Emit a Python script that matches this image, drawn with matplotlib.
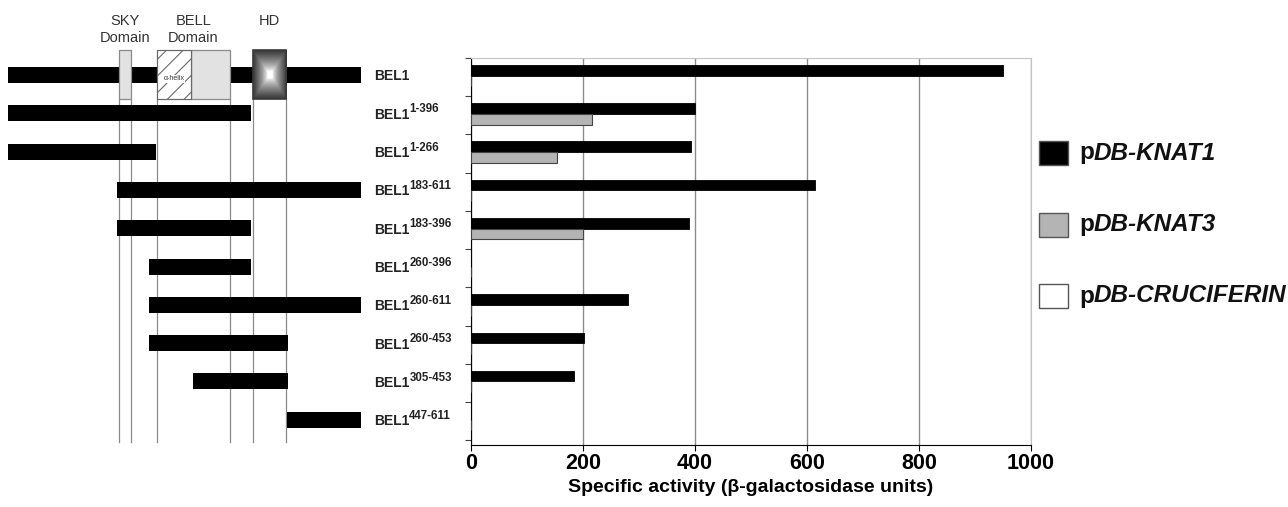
import numpy as np
import matplotlib.pyplot as plt
from matplotlib.patches import Rectangle

plt.rcParams['font.family'] = ['Liberation Sans', 'DejaVu Sans']

# constructs (residue ranges of BEL1)
construct_start = [1, 1, 1, 183, 183, 260, 260, 260, 305, 447]
construct_end = [611, 396, 266, 611, 396, 396, 611, 453, 453, 611]

# specific activity (beta-galactosidase units)
knat1 = [950, 400, 392, 615, 390, 0, 281, 201, 184, 0]
knat3 = [0, 216, 154, 0, 200, 0, 0, 0, 0, 0]
cruciferin = [0, 0, 0, 0, 0, 0, 0, 0, 0, 0]

series_names = ["KNAT1", "KNAT3", "CRUCIFERIN"]
series_colors = ["black", "#b4b4b4", "white"]

# domains (residues)
sky_dom = (187, 216)
bell_dom = (267, 363)
helix_end = 303
hd_dom = (399, 446)

# schematic is not to scale: residue -> drawing position
res_break = [1, 183, 260, 266, 305, 396, 447, 453, 611]
pos_break = [8, 117, 149, 156, 193, 251, 287, 288, 361]


def to_x(r):
    return np.interp(r, res_break, pos_break)


n = len(construct_start)
row0, step = 75, 38.3
rows_px = row0 + step * np.arange(n)

fig = plt.figure(figsize=(12.88, 5.07), dpi=100)

# overlay axes in pixel units for the schematic, labels, legend
ax0 = fig.add_axes([0, 0, 1, 1])
ax0.axis("off")

bar_h = 16
box_top, box_bot = 50, 99
guide_bottom = 442

# guide lines
for r in [sky_dom[0], sky_dom[1], bell_dom[0], bell_dom[1], hd_dom[0], hd_dom[1]]:
    ax0.plot([to_x(r), to_x(r)], [box_bot, guide_bottom], color="#8a8a8a",
             lw=0.9, zorder=1)

# construct bars
for i in range(n):
    x0 = to_x(construct_start[i])
    x1 = to_x(construct_end[i])
    ax0.add_patch(Rectangle((x0, rows_px[i] - bar_h / 2), x1 - x0, bar_h,
                            facecolor="black", edgecolor="none", zorder=2))

# domain boxes
sx0, sx1 = to_x(sky_dom[0]), to_x(sky_dom[1])
ax0.add_patch(Rectangle((sx0, box_top), sx1 - sx0, box_bot - box_top,
                        facecolor="#e2e2e2", edgecolor="#8a8a8a", lw=0.9, zorder=3))
bx0, bx1, hx = to_x(bell_dom[0]), to_x(bell_dom[1]), to_x(helix_end)
ax0.add_patch(Rectangle((hx, box_top), bx1 - hx, box_bot - box_top,
                        facecolor="#e2e2e2", edgecolor="#8a8a8a", lw=0.9, zorder=3))
plt.rcParams['hatch.linewidth'] = 0.8
ax0.add_patch(Rectangle((bx0, box_top), hx - bx0, box_bot - box_top,
                        facecolor="white", edgecolor="#6a6a6a", hatch="//",
                        lw=0.9, zorder=3))
ax0.text((bx0 + hx) / 2, 79, "α-helix", fontsize=5, ha="center", va="center",
         color="#333333", zorder=4,
         bbox=dict(facecolor="white", edgecolor="none", pad=0.3))

# homeodomain with gradient
hd0, hd1 = to_x(hd_dom[0]), to_x(hd_dom[1])
gx = np.linspace(-1, 1, 60)
gy = np.linspace(-1, 1, 80)
GX, GY = np.meshgrid(gx, gy)
d = np.maximum(np.abs(GX), np.abs(GY))
shade = 1 - 0.78 * np.clip((d - 0.15) / 0.85, 0, 1) ** 0.7
ax0.imshow(shade, cmap="gray", vmin=0, vmax=1, extent=(hd0, hd1, box_bot, box_top),
           aspect="auto", zorder=3, interpolation="bilinear")
ax0.add_patch(Rectangle((hd0, box_top), hd1 - hd0, box_bot - box_top,
                        facecolor="none", edgecolor="#3a3a3a", lw=1.2, zorder=4))

# domain labels
ax0.text((sx0 + sx1) / 2, 21, "SKY", fontsize=10.5, ha="center", va="center",
         color="#333333")
ax0.text((sx0 + sx1) / 2, 38, "Domain", fontsize=10.5, ha="center", va="center",
         color="#333333")
ax0.text((bx0 + bx1) / 2, 21, "BELL", fontsize=10.5, ha="center", va="center",
         color="#333333")
ax0.text((bx0 + bx1) / 2, 38, "Domain", fontsize=10.5, ha="center", va="center",
         color="#333333")
ax0.text((hd0 + hd1) / 2, 21, "HD", fontsize=10.5, ha="center", va="center",
         color="#333333")

# construct labels
for i in range(n):
    t = ax0.text(374, rows_px[i] + 1.5, "BEL1", fontsize=10, fontweight="bold",
                 ha="left", va="center", color="#222222")
    if i > 0:
        ax0.annotate(f"{construct_start[i]}-{construct_end[i]}", xy=(1.0, 0.45),
                     xycoords=t, fontsize=8.3, fontweight="bold", ha="left",
                     va="bottom", color="#222222")

# legend (drawn by hand for mixed upright / italic text)
leg_y0, leg_step = 153, 71.5
for k, name in enumerate(series_names):
    yc = leg_y0 + leg_step * k
    ax0.add_patch(Rectangle((1039, yc - 12), 29, 24, facecolor=series_colors[k],
                            edgecolor="#555555", lw=1.0))
    tp = ax0.text(1079, yc, "p", fontsize=17.5, fontweight="bold", ha="left",
                  va="center", color="#111111")
    ax0.annotate(f"DB-{name}", xy=(1.0, 0.5), xycoords=tp, fontsize=17.5,
                 fontweight="bold", style="italic", ha="left", va="center",
                 color="#111111")

ax0.set_xlim(0, 1288)
ax0.set_ylim(507, 0)

# bar chart
ax = fig.add_axes([471 / 1288, (507 - 445) / 507, 560 / 1288, 387 / 507])
ax.set_facecolor("none")
y = np.arange(n)
lab_off = (row0 + 1.5 - 58) / step
ax.set_ylim(n - 1 + (445 - row0 - 1.5 - step * (n - 1)) / step, -lab_off)

bh = 0.28
ax.barh(y - 0.18, knat1, height=bh, color=series_colors[0], edgecolor="black",
        lw=0.6, zorder=3)
ax.barh(y + 0.10, knat3, height=bh, color=series_colors[1], edgecolor="#444444",
        lw=0.8, zorder=3)
ax.barh(y + 0.38, cruciferin, height=bh, color=series_colors[2], edgecolor="none",
        zorder=3)

ax.set_xlim(0, 1000)
ax.set_xticks([0, 200, 400, 600, 800, 1000])
ax.tick_params(axis="x", labelsize=15.5, length=4, width=0.8, pad=2)
for lbl in ax.get_xticklabels():
    lbl.set_fontweight("bold")
ax.set_yticks(np.arange(n + 1) - 0.5)
ax.set_yticklabels([])
ax.tick_params(axis="y", length=4, width=0.8, color="#444444")
ax.grid(axis="x", color="#8c8c8c", lw=1.0, zorder=0)
ax.spines["left"].set_color("black")
ax.spines["bottom"].set_color("black")
ax.spines["top"].set_color("#c4c4c4")
ax.spines["right"].set_color("#c4c4c4")
ax.set_xlabel("Specific activity (β-galactosidase units)", fontsize=14,
              fontweight="bold", labelpad=3)

plt.savefig("out.png", dpi=100)
